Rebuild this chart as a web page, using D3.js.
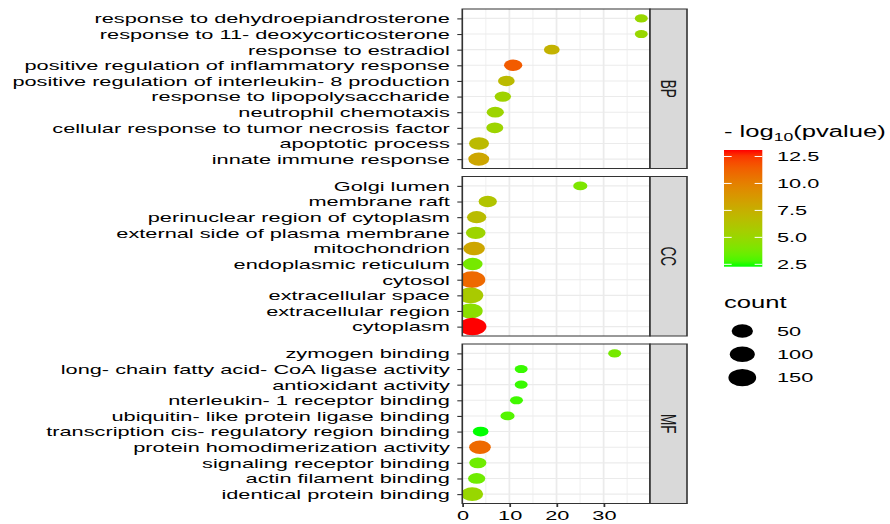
<!DOCTYPE html>
<html>
<head>
<meta charset="utf-8">
<script src="https://cdn.jsdelivr.net/npm/d3@7"></script>
<style>
	body { margin: 0; background: #fff; }
	svg { display: block; }
	text { font-family: "Liberation Sans", Arial, Helvetica, sans-serif; }
</style>
</head>
<body>
<script>
// GO terms per ontology, listed top to bottom as drawn
var ontologies = ["BP", "CC", "MF"];

var bpTerms = ["response to dehydroepiandrosterone", "response to 11- deoxycorticosterone", "response to estradiol",
	"positive regulation of inflammatory response", "positive regulation of interleukin- 8 production",
	"response to lipopolysaccharide", "neutrophil chemotaxis", "cellular response to tumor necrosis factor",
	"apoptotic process", "innate immune response"];
var bpEnrich = [38.0, 38.0, 19.0, 10.8, 9.35, 8.6, 7.0, 6.9, 3.55, 3.5];
var bpLogP = [5.0, 5.0, 7.3, 11.5, 6.8, 5.3, 5.2, 5.2, 6.8, 8.0];
var bpCount = [3, 3, 8, 22, 12, 11, 15, 14, 36, 46];

var ccTerms = ["Golgi lumen", "membrane raft", "perinuclear region of cytoplasm", "external side of plasma membrane",
	"mitochondrion", "endoplasmic reticulum", "cytosol", "extracellular space", "extracellular region", "cytoplasm"];
var ccEnrich = [25.05, 5.4, 3.05, 2.85, 2.5, 2.2, 2.05, 1.75, 1.75, 2.15];
var ccLogP = [4.0, 6.2, 6.7, 5.2, 8.0, 3.8, 11.0, 5.8, 4.5, 13.1];
var ccCount = [4, 22, 30, 33, 54, 35, 130, 108, 89, 155];

var mfTerms = ["zymogen binding", "long- chain fatty acid- CoA ligase activity", "antioxidant activity",
	"nterleukin- 1 receptor binding", "ubiquitin- like protein ligase binding", "transcription cis- regulatory region binding",
	"protein homodimerization activity", "signaling receptor binding", "actin filament binding", "identical protein binding"];
var mfEnrich = [32.35, 12.5, 12.5, 11.5, 9.6, 3.9, 3.75, 3.3, 3.05, 2.1];
var mfLogP = [3.8, 2.6, 2.6, 2.7, 3.0, 2.28, 11.0, 3.6, 3.6, 5.0];
var mfCount = [3, 3, 3, 3, 4, 8, 54, 15, 15, 58];

var xTicks = [0, 10, 20, 30];
var xMinor = [5, 15, 25, 35];
var colorTicks = [2.5, 5.0, 7.5, 10.0, 12.5];
var countBreaks = [50, 100, 150];

var panels = [
	{name: "BP", terms: bpTerms, enrich: bpEnrich, logp: bpLogP, count: bpCount},
	{name: "CC", terms: ccTerms, enrich: ccEnrich, logp: ccLogP, count: ccCount},
	{name: "MF", terms: mfTerms, enrich: mfEnrich, logp: mfLogP, count: mfCount}
];

// the picture is stretched sideways, so draw narrow and let the viewBox widen it
var S = 1.6, W = 890, H = 524;
var fx = function(v){ return v / S; };

var svg = d3.select("body").append("svg")
	.attr("width", W)
	.attr("height", H)
	.attr("viewBox", "0 0 " + (W / S) + " " + H)
	.attr("preserveAspectRatio", "none");

var fs = 13.6;
var panelLeft = fx(462.3), panelRight = fx(650), stripRight = fx(687);
var panelTops = [9, 176.5, 344], panelH = 159.5;

var x = d3.scaleLinear().domain([0, 39.85]).range([panelLeft, panelRight]);

var allLogP = bpLogP.concat(ccLogP, mfLogP);
var allCount = bpCount.concat(ccCount, mfCount);
var logExt = d3.extent(allLogP);
var countExt = d3.extent(allCount);

var color = d3.scaleLinear().domain(logExt).range(["#00ff00", "#ff0000"]).interpolate(d3.interpolateLab);
var rScale = d3.scaleLinear().domain([0, 1]).range([13 / S / 2, 28 / S / 2]);
var radius = function(c){
	return rScale(Math.sqrt((c - countExt[0]) / (countExt[1] - countExt[0])));
};

var defs = svg.append("defs");

panels.forEach(function(p, i){
	var top = panelTops[i];
	var y = d3.scalePoint().domain(p.terms).range([top, top + panelH]).padding(0.6);
	var g = svg.append("g");

	g.append("rect")
		.attr("x", panelLeft).attr("y", top)
		.attr("width", panelRight - panelLeft).attr("height", panelH)
		.attr("fill", "#fff");

	g.selectAll(".minor").data(xMinor).enter().append("line")
		.attr("x1", function(d){ return x(d); }).attr("x2", function(d){ return x(d); })
		.attr("y1", top).attr("y2", top + panelH)
		.attr("stroke", "#ebebeb").attr("stroke-width", 0.6);

	g.selectAll(".major").data(xTicks).enter().append("line")
		.attr("x1", function(d){ return x(d); }).attr("x2", function(d){ return x(d); })
		.attr("y1", top).attr("y2", top + panelH)
		.attr("stroke", "#ebebeb").attr("stroke-width", 1.1);

	g.selectAll(".hgrid").data(p.terms).enter().append("line")
		.attr("x1", panelLeft).attr("x2", panelRight)
		.attr("y1", function(d){ return y(d); }).attr("y2", function(d){ return y(d); })
		.attr("stroke", "#ebebeb").attr("stroke-width", 1.1);

	defs.append("clipPath").attr("id", "clip" + i)
		.append("rect")
		.attr("x", panelLeft).attr("y", top)
		.attr("width", panelRight - panelLeft).attr("height", panelH);

	var idx = d3.range(p.terms.length);
	g.append("g").attr("clip-path", "url(#clip" + i + ")")
		.selectAll("circle").data(idx).enter().append("circle")
		.attr("cx", function(k){ return x(p.enrich[k]); })
		.attr("cy", function(k){ return y(p.terms[k]); })
		.attr("r", function(k){ return radius(p.count[k]); })
		.attr("fill", function(k){ return color(p.logp[k]); });

	g.append("rect")
		.attr("x", panelLeft).attr("y", top)
		.attr("width", panelRight - panelLeft).attr("height", panelH)
		.attr("fill", "none").attr("stroke", "#333").attr("stroke-width", 1);

	// strip on the right
	g.append("rect")
		.attr("x", panelRight).attr("y", top)
		.attr("width", stripRight - panelRight).attr("height", panelH)
		.attr("fill", "#d9d9d9").attr("stroke", "#333").attr("stroke-width", 1);

	g.append("text")
		.attr("transform", "translate(" + ((panelRight + stripRight) / 2) + "," + (top + panelH / 2) + ") rotate(90)")
		.attr("text-anchor", "middle")
		.attr("dy", "0.35em")
		.attr("font-size", fs)
		.attr("fill", "#1a1a1a")
		.text(p.name);

	var yAxis = g.append("g")
		.attr("transform", "translate(" + panelLeft + ",0)")
		.call(d3.axisLeft(y).tickSize(fx(5)).tickPadding(fx(7.5)));
	yAxis.select(".domain").remove();
	yAxis.selectAll("line").attr("stroke", "#333").attr("stroke-width", 1.1);
	yAxis.selectAll("text").attr("font-size", fs).attr("fill", "#000")
		.attr("font-family", "\"Liberation Sans\", Arial, sans-serif");

	if(i == panels.length - 1){
		var xAxis = g.append("g")
			.attr("transform", "translate(0," + (top + panelH) + ")")
			.call(d3.axisBottom(x).tickValues(xTicks).tickSize(3.5).tickPadding(3.8));
		xAxis.select(".domain").remove();
		xAxis.selectAll("line").attr("stroke", "#333").attr("stroke-width", 1.1);
		xAxis.selectAll("text").attr("font-size", fs).attr("fill", "#000")
			.attr("font-family", "\"Liberation Sans\", Arial, sans-serif");
	}
});

// colour legend
var legX = fx(724);
var title = svg.append("text").attr("x", legX).attr("y", 137).attr("font-size", 16).attr("fill", "#000");
title.append("tspan").text("- log");
title.append("tspan").attr("font-size", 11).attr("dy", 4).text("10");
title.append("tspan").attr("dy", -4).text("(pvalue)");

var barW = fx(762.3) - legX;
var cb = d3.scaleLinear().domain(logExt).range([266.7, 150]);
var grad = defs.append("linearGradient").attr("id", "cbar")
	.attr("x1", 0).attr("y1", 1).attr("x2", 0).attr("y2", 0);
d3.range(0, 1.0001, 0.05).forEach(function(t){
	grad.append("stop").attr("offset", t)
		.attr("stop-color", color(logExt[0] + t * (logExt[1] - logExt[0])));
});
svg.append("rect")
	.attr("x", legX).attr("y", cb.range()[1])
	.attr("width", barW).attr("height", cb.range()[0] - cb.range()[1])
	.attr("fill", "url(#cbar)");

colorTicks.forEach(function(v){
	svg.append("line").attr("x1", legX).attr("x2", legX + barW / 5)
		.attr("y1", cb(v)).attr("y2", cb(v)).attr("stroke", "#fff").attr("stroke-width", 1);
	svg.append("line").attr("x1", legX + barW * 4 / 5).attr("x2", legX + barW)
		.attr("y1", cb(v)).attr("y2", cb(v)).attr("stroke", "#fff").attr("stroke-width", 1);
	svg.append("text").attr("x", fx(777)).attr("y", cb(v)).attr("dy", "0.35em")
		.attr("font-size", fs).attr("fill", "#000").text(v.toFixed(1));
});

// size legend
svg.append("text").attr("x", legX).attr("y", 308).attr("font-size", 16).attr("fill", "#000").text("count");
var keyY = [331, 354.3, 377.7];
countBreaks.forEach(function(c, k){
	svg.append("circle").attr("cx", fx(742.3)).attr("cy", keyY[k]).attr("r", radius(c)).attr("fill", "#000");
	svg.append("text").attr("x", fx(777)).attr("y", keyY[k]).attr("dy", "0.35em")
		.attr("font-size", fs).attr("fill", "#000").text(c);
});
</script>
</body>
</html>
